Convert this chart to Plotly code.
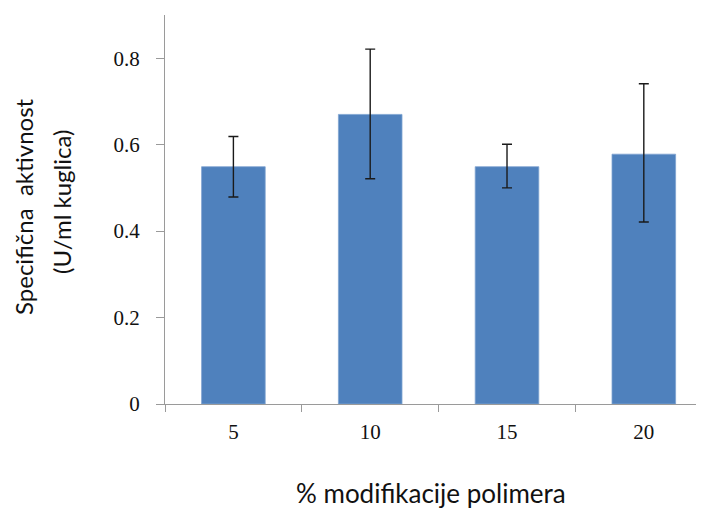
import plotly.graph_objects as go

categories = ["5", "10", "15", "20"]
values = [0.549, 0.670, 0.549, 0.578]
err_plus = [0.070, 0.151, 0.052, 0.163]
err_minus = [0.070, 0.149, 0.049, 0.157]

# page body has an 8px margin; compensate so the plot lands where the reference has it
OFF = 8
W, H = 704 - OFF, 508 - OFF
L, T, B = 165 - OFF, 15 - OFF, 508 - 404
PW, PH = W - L, H - T - B

def px(xp):
    return (xp - OFF - L) / PW

def py(yp):
    return (H - B - (yp - OFF)) / PH

fig = go.Figure()
fig.add_trace(go.Bar(
    x=categories, y=values,
    marker=dict(color="#4F81BD", line=dict(color="#7FA3D1", width=0.8)),
    width=0.465,
    error_y=dict(type="data", symmetric=False, array=err_plus, arrayminus=err_minus,
                 color="#1a1a1a", thickness=1.4, width=5),
))

axis_col = "#9a9a9a"
fig.update_layout(
    width=W, height=H,
    margin=dict(l=L, r=0, t=T, b=B, pad=0),
    plot_bgcolor="white", paper_bgcolor="white",
    showlegend=False,
    xaxis=dict(type="category", range=[-0.5, 3.44], showline=True, linecolor=axis_col, linewidth=1.2,
               ticks="outside", tickson="boundaries", ticklen=7, tickcolor=axis_col, tickwidth=1.2,
               showgrid=False, zeroline=False, ticklabelstandoff=9,
               tickfont=dict(family="Liberation Serif", size=21, color="#111")),
    yaxis=dict(range=[0, 0.9], tickvals=[0, 0.2, 0.4, 0.6, 0.8], ticktext=["0", "0.2", "0.4", "0.6", "0.8"],
               showline=True, linecolor=axis_col, linewidth=1.2,
               ticks="outside", ticklen=8, tickcolor=axis_col, tickwidth=1.2,
               showgrid=False, zeroline=False, ticklabelstandoff=12,
               tickfont=dict(family="Liberation Serif", size=21, color="#111")),
    annotations=[
        dict(text="Specifična  aktivnost", textangle=-90,
             xref="paper", yref="paper", x=px(23), y=py(207),
             xanchor="center", yanchor="middle", showarrow=False,
             font=dict(family="Lato", size=24, color="#111")),
        dict(text="(U/ml kuglica)", textangle=-90,
             xref="paper", yref="paper", x=px(61), y=py(202),
             xanchor="center", yanchor="middle", showarrow=False,
             font=dict(family="Lato", size=24, color="#111")),
        dict(text="% modifikacije polimera",
             xref="paper", yref="paper", x=px(431), y=py(493),
             xanchor="center", yanchor="middle", showarrow=False,
             font=dict(family="Lato", size=26, color="#111")),
    ],
)

fig.write_html("out.html")
